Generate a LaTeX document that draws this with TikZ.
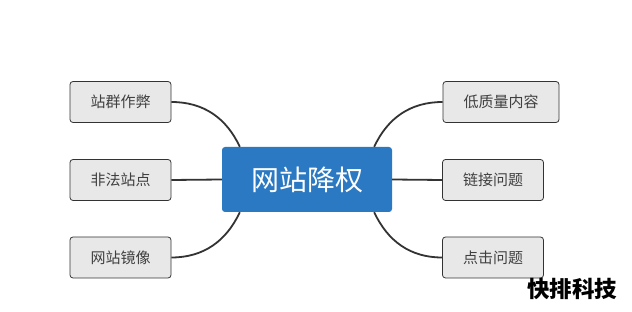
\documentclass[tikz,border=0pt]{standalone}
\usepackage{fontspec}
\newfontfamily\cjk{Noto Sans CJK SC}
\usetikzlibrary{positioning}
\definecolor{hubblue}{RGB}{42,121,194}
\definecolor{boxgray}{RGB}{232,232,232}
\definecolor{linegray}{RGB}{51,51,51}
\tikzset{
    leaf/.style={draw=linegray, fill=boxgray, line width=0.8pt, rounded corners=3pt,
        minimum height=41pt, inner sep=0pt, text=black!75, font=\cjk\fontsize{15}{18}\selectfont},
    hubbox/.style={fill=hubblue, rounded corners=3pt, minimum width=170pt, minimum height=65pt,
        inner sep=0pt, text=white, font=\cjk\fontsize{28}{32}\selectfont},
    branch/.style={draw=linegray, line width=1.8pt}
}

\begin{document}
\begin{tikzpicture}[x=1pt, y=1pt]
    \useasboundingbox (0, 0) rectangle (632, -312);

    \node[hubbox] (hub) at (307, -179.5) {网站降权};

    \node[leaf, minimum width=101pt] (L0) at (120.5, -102) {站群作弊};
    \node[leaf, minimum width=101pt] (L1) at (120.5, -180) {非法站点};
    \node[leaf, minimum width=101pt] (L2) at (120.5, -257.5) {网站镜像};
    \node[leaf, minimum width=116pt] (R0) at (501, -102) {低质量内容};
    \node[leaf, minimum width=101pt] (R1) at (493, -180) {链接问题};
    \node[leaf, minimum width=101pt] (R2) at (493, -257.5) {点击问题};

    \coordinate (hubNW) at ([xshift=18pt]hub.north west);
    \coordinate (hubSW) at ([xshift=18pt]hub.south west);
    \coordinate (hubNE) at ([xshift=-18pt]hub.north east);
    \coordinate (hubSE) at ([xshift=-18pt]hub.south east);

    \draw[branch] (L0.east) to[out=0, in=115] (hubNW);
    \draw[branch] (L1.east) -- (hub.west);
    \draw[branch] (L2.east) to[out=0, in=-115] (hubSW);
    \draw[branch] (R0.west) to[out=180, in=65] (hubNE);
    \draw[branch] (R1.west) -- (hub.east);
    \draw[branch] (R2.west) to[out=180, in=-65] (hubSE);

    % watermark
    \node[font=\cjk\bfseries\fontsize{22.5}{27}\selectfont] (mark) at (572, -289) {快排科技};
\end{tikzpicture}
\end{document}
